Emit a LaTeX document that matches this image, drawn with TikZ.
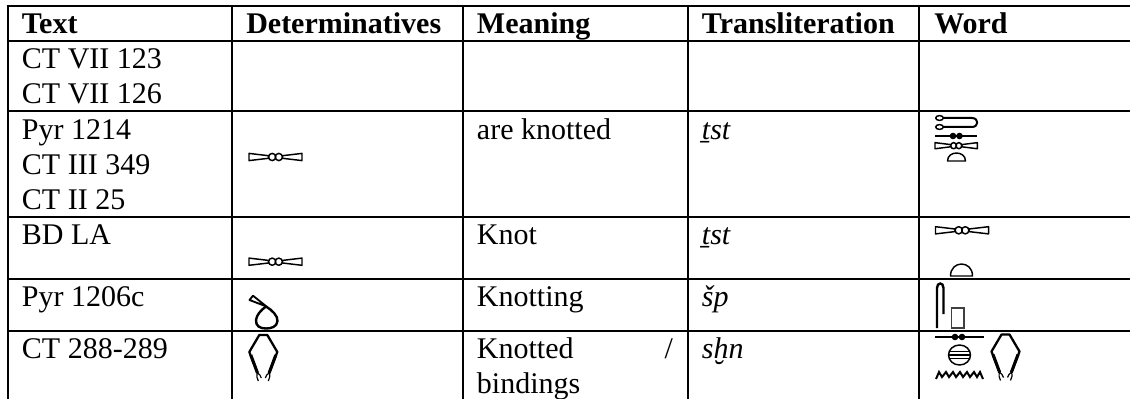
\documentclass[tikz,border=0pt]{standalone}
\usepackage{fontspec}
\setmainfont{Liberation Serif}
\newcommand{\cellstrut}{\rule{0pt}{18pt}}
\tikzset{
  x=.75pt, y=-.75pt,
  grid/.style={line width=1.5pt, black},
  cell/.style={anchor=north west, inner sep=0pt, align=left,
    font=\fontsize{22.5}{26.25}\selectfont, execute at begin node=\cellstrut},
  head/.style={cell, font=\fontsize{22.5}{26.25}\selectfont\bfseries},
  translit/.style={cell, font=\fontsize{22.5}{26.25}\selectfont\itshape},
  glyph/.style={line width=1.1pt, black, line join=round},
  pics/knotglyph/.style={code={
    \draw[glyph] (0,-3.6) -- (19.5,-1.3) -- (19.5,1.3) -- (0,3.6) -- cycle;
    \draw[glyph] (53,-3.6) -- (33.5,-1.3) -- (33.5,1.3) -- (53,3.6) -- cycle;
    \fill[white] (23.2,0) circle[radius=3.6] (29.8,0) circle[radius=3.6];
    \draw[glyph] (23.2,0) circle[radius=3.6];
    \draw[glyph] (29.8,0) circle[radius=3.6];
  }},
  pics/barglyph/.style={code={
    \draw[line width=2.2pt, black] (0,0) -- (42,0);
    \fill[black] (18,0) circle[radius=3.3] (24.5,0) circle[radius=3.3];
  }},
  pics/loafglyph/.style={code={
    \draw[glyph] (0,0) -- (1,0) .. controls (1,-1.33) and (0,-1.33) .. (0,0) -- cycle;
  }},
  pics/bindglyph/.style={code={
    \draw[line width=1.7pt, black, line join=round]
      (-5.8,38) -- (-14,17) -- (-4,0) -- (4,0) -- (14,17) -- (5.8,38);
    \draw[line width=2.3pt, black] (-12.5,20) -- (-5.8,38);
    \draw[line width=2.3pt, black] (12.5,20) -- (5.8,38);
    \draw[line width=.9pt, black] (-5.8,37) .. controls (-7,41) and (-6.5,43) .. (-5,46);
    \draw[line width=.9pt, black] (-5.8,38) .. controls (-4.5,39) and (-2.5,40) .. (-2,43);
    \draw[line width=.9pt, black] (5.8,37) .. controls (7,41) and (6.5,43) .. (5,46);
    \draw[line width=.9pt, black] (5.8,38) .. controls (4.5,39) and (2.5,40) .. (2,43);
  }}
}
\begin{document}
\begin{tikzpicture}
\useasboundingbox (0,0) rectangle (1130,399);
% grid
\foreach \yy in {6.5,41.5,111,216.7,279,330.7}
  \draw[grid] (6.5,\yy) -- (1130,\yy);
\foreach \xx in {7.5,231.5,462.5,687.7,919}
  \draw[grid] (\xx,5.5) -- (\xx,399);
% header
\node[head] (h1) at (21.7,9.7) {Text};
\node[head] (h2) at (246,9.7) {Determinatives};
\node[head] (h3) at (476.7,9.7) {Meaning};
\node[head] (h4) at (701.7,9.7) {Transliteration};
\node[head] (h5) at (934,9.7) {Word};
% first column
\node[cell] (t1) at (21.7,48) {CT VII 123\\CT VII 126};
\node[cell] (t2) at (21.7,119) {Pyr 1214\\CT III 349\\CT II 25};
\node[cell] (t3) at (21.7,220) {BD LA};
\node[cell] (t4) at (21.7,282.7) {Pyr 1206c};
\node[cell] (t5) at (21.7,334) {CT 288-289};
% meaning
\node[cell] (m2) at (476.7,115) {are knotted};
\node[cell] (m3) at (476.7,220) {Knot};
\node[cell] (m4) at (476.7,282.7) {Knotting};
\node[cell, text width=147pt, align=justify] (m5) at (476.7,334) {Knotted\hfill/\\bindings};
% transliteration
\node[translit] (l2) at (701.7,115) {ṯst};
\node[translit] (l3) at (701.7,220) {ṯst};
\node[translit] (l4) at (701.7,282.7) {šp};
\node[translit] (l5) at (701.7,334) {sḫn};
% determinatives
\pic at (249,157) {knotglyph};
\pic at (249,261.7) {knotglyph};
\draw[glyph, line width=1.8pt] (266,306.5) .. controls (272,310) and (278,316) .. (277.5,321)
  .. controls (277,327) and (271,328.5) .. (266,328.5)
  .. controls (260,328.5) and (255.5,326) .. (256,320)
  .. controls (256.5,315) and (261,310) .. (266,306.5) -- cycle;
\draw[glyph, line width=1.4pt] (249.5,300) -- (253,295.7) -- (266.5,306.5) -- cycle;
\pic at (263.3,335) {bindglyph};
% word: row 2
\draw[glyph, line width=1.5pt] (943,118) -- (972,118) .. controls (979,118) and (979,127) .. (972,127) -- (943,127);
\fill[white] (939.5,118) ellipse[x radius=3.8, y radius=2.4] (939.5,127) ellipse[x radius=3.8, y radius=2.4];
\draw[glyph, line width=1.1pt] (939.5,118) ellipse[x radius=3.8, y radius=2.4];
\draw[glyph, line width=1.1pt] (939.5,127) ellipse[x radius=3.8, y radius=2.4];
\pic at (935,136) {barglyph};
\pic[xscale=.8, yscale=.85] at (935,145.7) {knotglyph};
\pic[xscale=18, yscale=8] at (947.5,161) {loafglyph};
% word: row 3
\pic at (935.5,230.3) {knotglyph};
\pic[xscale=22, yscale=12] at (950.5,276) {loafglyph};
% word: row 4
\draw[line width=1.8pt, black] (937,328) -- (937,288) .. controls (937,282) and (943.5,282) .. (943.5,288) -- (943.5,314);
\draw[line width=1pt, black!75] (951.5,308) rectangle (964,328);
% word: row 5
\draw[line width=2.2pt, black] (935,337) -- (984,337);
\fill[black] (955,337) circle[radius=3.3] (962,337) circle[radius=3.3];
\draw[glyph] (959.5,355) ellipse[x radius=11, y radius=10];
\draw[glyph, line width=.8pt] (949.3,351.5) -- (969.7,351.5) (948.5,355) -- (970.5,355) (949.3,358.5) -- (969.7,358.5);
\draw[line width=1.5pt, black, line join=miter]
  (936,379) -- (939,372) -- (942,377) -- (946,372) -- (949,377) -- (953,372) -- (956,377) -- (960,372)
  -- (963,377) -- (967,372) -- (970,377) -- (974,372) -- (977,377) -- (980,372) -- (983,379);
\pic at (1005.5,334.5) {bindglyph};
\end{tikzpicture}
\end{document}
